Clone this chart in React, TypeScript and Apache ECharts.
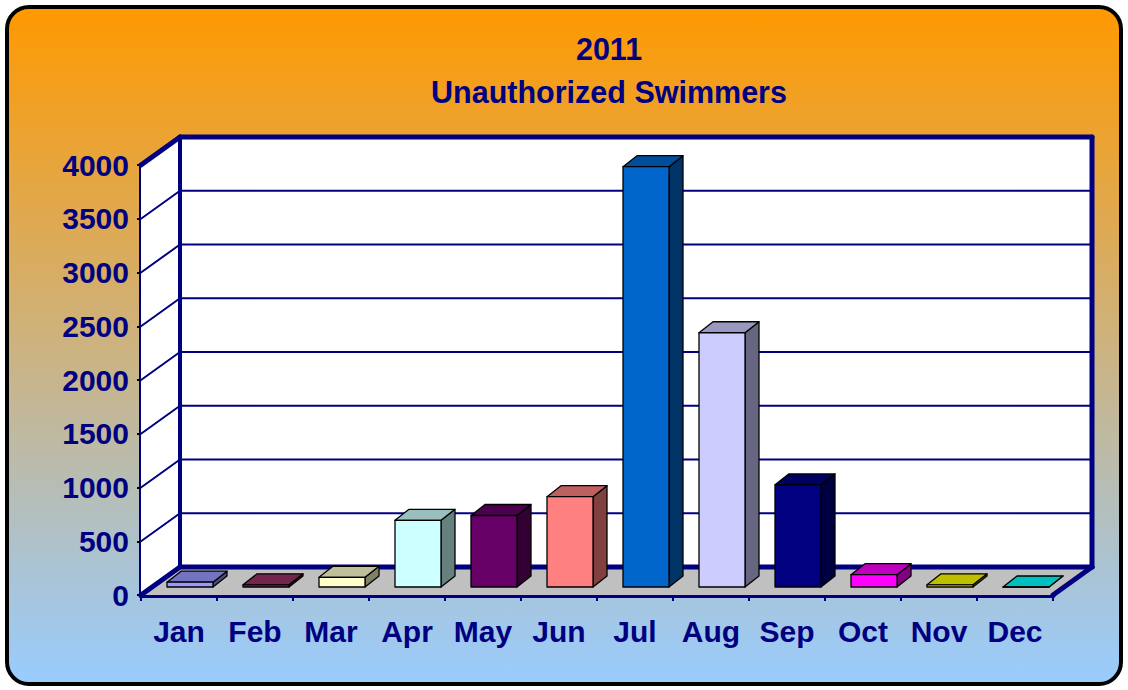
import React, { useEffect, useRef } from "react";
import * as echarts from "echarts";

const titleLines = ["2011", "Unauthorized Swimmers"];
const months = ["Jan", "Feb", "Mar", "Apr", "May", "Jun", "Jul", "Aug", "Sep", "Oct", "Nov", "Dec"];
const swimmers = [45, 20, 90, 620, 665, 840, 3910, 2365, 950, 115, 20, 0];
const barColors = ["#9999FF", "#993366", "#FFFFCC", "#CCFFFF", "#660066", "#FF8080", "#0066CC", "#CCCCFF", "#000080", "#FF00FF", "#FFFF00", "#00FFFF"];
const yMin = 0;
const yMax = 4000;
const yStep = 500;
const yGridValues = [500, 1000, 1500, 2000, 2500, 3000, 3500];

const NAVY = "#000080";
const FONT = "'Liberation Sans', Arial, sans-serif";
const WALL_DX = 39;
const WALL_DY = -28;
const BAR_DX = 11;
const BAR_DY = -8;
const BAR_DDX = 14;
const BAR_DDY = -11;
const BAR_RATIO = 46 / 76;

function shade(hex: string, f: number): string {
  const n = parseInt(hex.slice(1), 16);
  const r = Math.round(((n >> 16) & 255) * f);
  const g = Math.round(((n >> 8) & 255) * f);
  const b = Math.round((n & 255) * f);
  return "rgb(" + r + "," + g + "," + b + ")";
}

export default function App() {
  const ref = useRef<HTMLDivElement>(null);
  useEffect(() => {
    if (!ref.current) return;
    const chart = echarts.init(ref.current, undefined, { renderer: "svg" });
    const line = (x1: number, y1: number, x2: number, y2: number, w: number) => ({
      type: "line",
      shape: { x1, y1, x2, y2 },
      style: { stroke: NAVY, lineWidth: w, lineCap: "round" },
    });
    const option: any = {
      animation: false,
      graphic: [
        {
          type: "rect",
          z: -100,
          shape: { x: 7, y: 7, width: 1114, height: 677, r: 22 },
          style: {
            fill: new echarts.graphic.LinearGradient(0, 0, 0, 1, [
              { offset: 0, color: "#FF9900" },
              { offset: 1, color: "#99CCFF" },
            ]),
            stroke: "#000",
            lineWidth: 4,
          },
        },
        ...titleLines.map((t, i) => ({
          type: "text",
          x: 609,
          y: 49 + i * 43,
          z: 10,
          style: {
            text: t,
            fill: NAVY,
            font: "bold 30.5px " + FONT,
            textAlign: "center",
            textVerticalAlign: "middle",
          },
        })),
      ],
      grid: { left: 141, top: 165, width: 912, height: 430 },
      xAxis: {
        type: "category",
        data: months,
        boundaryGap: true,
        axisLine: { show: true, lineStyle: { color: NAVY, width: 5 } },
        axisTick: { show: true, length: 6, lineStyle: { color: NAVY, width: 2 } },
        axisLabel: { color: NAVY, fontSize: 30, fontWeight: "bold", fontFamily: FONT, margin: 21 },
        splitLine: { show: false },
      },
      yAxis: {
        type: "value",
        min: yMin,
        max: yMax,
        interval: yStep,
        axisLine: { show: true, lineStyle: { color: NAVY, width: 5 } },
        axisTick: { show: true, length: 4, lineStyle: { color: "#000", width: 2 } },
        axisLabel: {
          color: NAVY,
          fontSize: 30,
          fontWeight: "bold",
          fontFamily: FONT,
          margin: 12,
          formatter: (v: number) => String(v),
        },
        splitLine: { show: false },
      },
      series: [
        {
          type: "custom",
          name: "walls",
          z: 1,
          clip: false,
          silent: true,
          data: [[0, 0]],
          renderItem: (params: any, api: any) => {
            const cs = params.coordSys;
            const x0 = cs.x;
            const x1 = cs.x + cs.width;
            const yb = api.coord([0, yMin])[1];
            const yt = api.coord([0, yMax])[1];
            const dx = WALL_DX;
            const dy = WALL_DY;
            const children: any[] = [];
            children.push({
              type: "polygon",
              shape: { points: [[x0, yb], [x1, yb], [x1 + dx, yb + dy], [x0 + dx, yb + dy]] },
              style: { fill: "#C0C0C0" },
            });
            children.push({
              type: "rect",
              shape: { x: x0 + dx, y: yt + dy, width: x1 - x0, height: yb - yt },
              style: { fill: "#FFFFFF" },
            });
            children.push({
              type: "polygon",
              shape: { points: [[x0, yt], [x0 + dx, yt + dy], [x0 + dx, yb + dy], [x0, yb]] },
              style: { fill: "#FFFFFF" },
            });
            yGridValues.forEach((v) => {
              const y = api.coord([0, v])[1];
              children.push(line(x0 + dx, y + dy, x1 + dx, y + dy, 2));
              children.push(line(x0, y, x0 + dx, y + dy, 2));
            });
            children.push(line(x0 + dx, yt + dy, x1 + dx, yt + dy, 5));
            children.push(line(x1 + dx, yt + dy, x1 + dx, yb + dy, 5));
            children.push(line(x0 + dx, yt + dy, x0 + dx, yb + dy, 4));
            children.push(line(x0, yt, x0 + dx, yt + dy, 5));
            children.push(line(x0 + dx, yb + dy, x1 + dx, yb + dy, 5));
            children.push(line(x1, yb, x1 + dx, yb + dy, 5));
            children.push(line(x0, yb, x0 + dx, yb + dy, 5));
            return { type: "group", children };
          },
        },
        {
          type: "custom",
          name: "Unauthorized Swimmers",
          z: 3,
          clip: false,
          data: months.map((m, i) => [i, swimmers[i]]),
          renderItem: (params: any, api: any) => {
            const idx = api.value(0);
            const val = api.value(1);
            const top = api.coord([idx, val]);
            const base = api.coord([idx, 0]);
            const band = api.size([1, 0])[0];
            const w = band * BAR_RATIO;
            const fx = top[0] - w / 2 + BAR_DX;
            const fy0 = base[1] + BAR_DY;
            const fy1 = top[1] + BAR_DY;
            const c = barColors[idx];
            const stroke = { stroke: "#000", lineWidth: 1.3, lineJoin: "round" };
            return {
              type: "group",
              children: [
                {
                  type: "polygon",
                  shape: { points: [[fx + w, fy1], [fx + w + BAR_DDX, fy1 + BAR_DDY], [fx + w + BAR_DDX, fy0 + BAR_DDY], [fx + w, fy0]] },
                  style: { fill: shade(c, 0.5), ...stroke },
                },
                {
                  type: "polygon",
                  shape: { points: [[fx, fy1], [fx + w, fy1], [fx + w + BAR_DDX, fy1 + BAR_DDY], [fx + BAR_DDX, fy1 + BAR_DDY]] },
                  style: { fill: shade(c, 0.75), ...stroke },
                },
                {
                  type: "rect",
                  shape: { x: fx, y: fy1, width: w, height: Math.max(fy0 - fy1, 0) },
                  style: { fill: c, ...stroke },
                },
              ],
            };
          },
        },
      ],
    };
    chart.setOption(option);
    return () => chart.dispose();
  }, []);
  return <div ref={ref} style={{ position: "absolute", left: 0, top: 0, width: 1128, height: 690 }} />;
}
